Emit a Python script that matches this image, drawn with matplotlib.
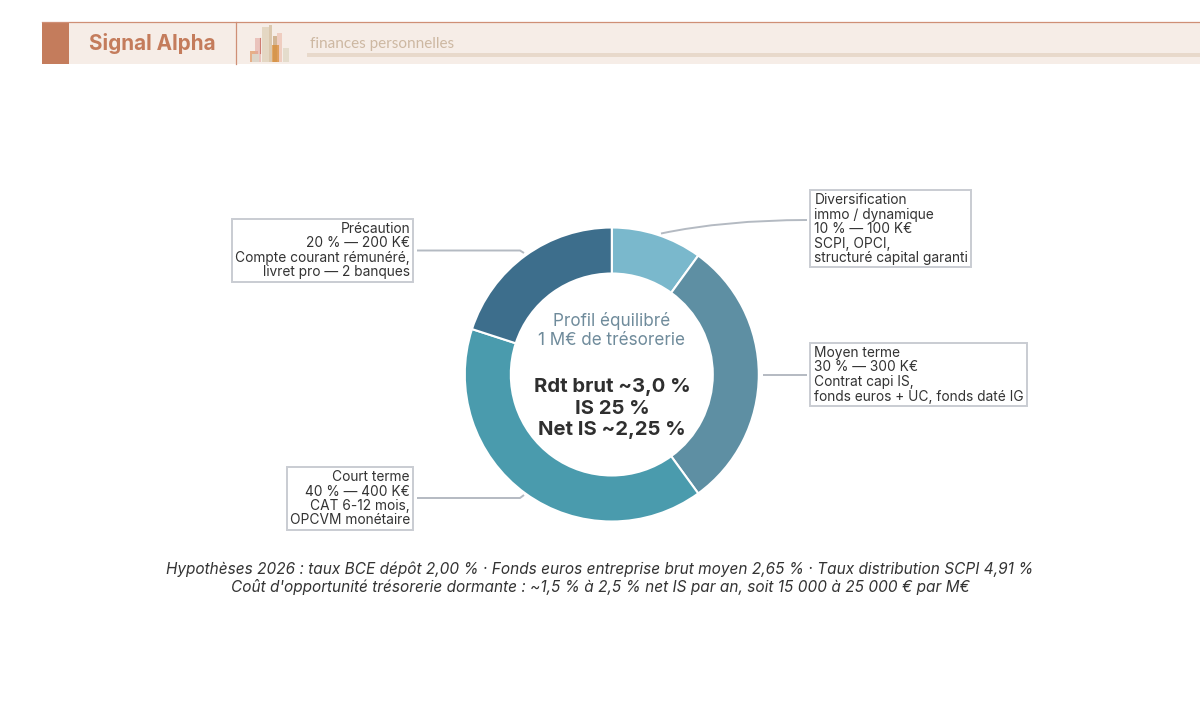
import matplotlib
matplotlib.use("Agg")
import matplotlib.pyplot as plt
from matplotlib.patches import Rectangle, PathPatch
from matplotlib.path import Path

W, H = 1200, 721
categories = ["Diversification", "Moyen terme", "Court terme", "Précaution"]
shares = [10, 30, 40, 20]
colors = ["#7AB8CC", "#5E8FA3", "#4A9BAD", "#3D6E8C"]

label_div = ["Diversification", "immo / dynamique", "10 % — 100 K€", "SCPI, OPCI,", "structuré capital garanti"]
label_moy = ["Moyen terme", "30 % — 300 K€", "Contrat capi IS,", "fonds euros + UC, fonds daté IG"]
label_crt = ["Court terme", "40 % — 400 K€", "CAT 6-12 mois,", "OPCVM monétaire"]
label_pre = ["Précaution", "20 % — 200 K€", "Compte courant rémunéré,", "livret pro — 2 banques"]
center_top = ["Profil équilibré", "1 M€ de trésorerie"]
center_main = ["Rdt brut ~3,0 %", "IS 25 %", "Net IS ~2,25 %"]
footnote = ["Hypothèses 2026 : taux BCE dépôt 2,00 % · Fonds euros entreprise brut moyen 2,65 % · Taux distribution SCPI 4,91 %",
            "Coût d'opportunité trésorerie dormante : ~1,5 % à 2,5 % net IS par an, soit 15 000 à 25 000 € par M€"]

plt.rcParams['font.family'] = ['Inter', 'DejaVu Sans']
fig = plt.figure(figsize=(W / 100, H / 100), dpi=100, facecolor="white")

# overlay in pixel coordinates
bg = fig.add_axes([0, 0, 1, 1])
bg.set_xlim(0, W); bg.set_ylim(H, 0); bg.axis("off")

# header
bg.add_patch(Rectangle((42, 22), 1158, 42.3, fc="#F6EDE7", ec="none"))
bg.plot([42, 1200], [21.7, 21.7], color="#CF8F76", lw=0.9)
bg.add_patch(Rectangle((42, 22), 27, 42.3, fc="#C47C5C", ec="none"))
bg.plot([236.3, 236.3], [22, 64.3], color="#CF8F76", lw=0.9)
bg.add_patch(Rectangle((307, 53), 893, 4, fc="#E8D9CB", ec="none"))
bg.text(89, 49.8, "Signal Alpha", family="Inter", weight="bold", fontsize=14.9, color="#C47C5C", va="baseline", ha="left")
bg.text(309.5, 48.3, "finances personnelles", family="Lato", fontsize=11, color="#CDB8A2", va="baseline", ha="left")
for x, y0, w, c, a in [(250, 51, 8, "#E2A070", .8), (255, 38, 6, "#E3A8A0", .6), (252, 54, 7, "#DDD8CC", .95),
                       (262, 27, 7, "#E3D5C0", .9), (269, 25, 3, "#D9C4A8", .9), (277, 33, 5, "#EDC0B0", .7),
                       (273, 36, 4, "#C9A880", .8), (272, 45, 7, "#D98A30", .7), (283, 48, 6, "#E3DCCB", .95)]:
    bg.add_patch(Rectangle((x, y0), w, 62 - y0, fc=c, alpha=a, ec="none"))
bg.plot([260, 260], [38, 53], color="#C86A60", lw=0.8, alpha=.8)

# donut
R, cx, cy = 147, 611.8, 374.5
ax = fig.add_axes([(cx - R) / W, 1 - (cy + R) / H, 2 * R / W, 2 * R / H])
ax.pie(shares, colors=colors, startangle=90, counterclock=False, radius=1,
       wedgeprops=dict(width=0.313, edgecolor="white", linewidth=1.5))
ax.set_xlim(-1, 1); ax.set_ylim(-1, 1); ax.set_aspect("equal"); ax.axis("off")
ax.patch.set_alpha(0)

# overlay above donut
ov = fig.add_axes([0, 0, 1, 1])
ov.set_xlim(0, W); ov.set_ylim(H, 0); ov.axis("off"); ov.patch.set_alpha(0)

for line, y in zip(center_top, [326, 345]):
    ov.text(612, y, line, fontsize=12.3, color="#6F8B9B", ha="center", va="baseline")
for line, y in zip(center_main, [392.5, 414, 435]):
    ov.text(612, y, line, fontsize=14.6, weight="bold", color="#2F2F2F", ha="center", va="baseline")
for line, y in zip(footnote, [574.3, 592]):
    ov.text(600, y, line, fontsize=11.08, style="italic", color="#333333", ha="center", va="baseline")

box_ec = "#C9CCD2"
line_c = "#B4BAC2"
FS = 9.9
def box(x0, y0, x1, y1):
    ov.add_patch(Rectangle((x0, y0), x1 - x0, y1 - y0, fc="white", ec=box_ec, lw=1.4))
def lines(x, ys, txt, ha):
    for t, y in zip(txt, ys):
        ov.text(x, y, t, fontsize=FS, color="#333333", ha=ha, va="baseline")

box(810, 190, 971, 267)
ov.text(815, 204, label_div[0], fontsize=FS, color="#333333", ha="left", va="baseline")
lines(814, [218.7, 233, 247.7, 262.3], label_div[1:], "left")
box(810, 343, 1027, 406)
lines(814, [357, 371.3, 386, 400.7], label_moy, "left")
box(232, 219, 413, 282)
lines(410, [233.3, 247.3, 262, 276], label_pre, "right")
box(287, 467, 413, 530)
lines(410, [481, 495.7, 510, 524.3], label_crt, "right")

def conn(verts, codes):
    ov.add_patch(PathPatch(Path(verts, codes), fc="none", ec=line_c, lw=1.4))
conn([(661, 233.5), (725, 220), (807, 220)], [Path.MOVETO, Path.CURVE3, Path.CURVE3])
conn([(763, 374.5), (807, 374.5)], [Path.MOVETO, Path.LINETO])
conn([(417, 250.5), (520, 250.5), (524, 253)], [Path.MOVETO, Path.LINETO, Path.LINETO])
conn([(417, 498), (520, 498), (524, 495)], [Path.MOVETO, Path.LINETO, Path.LINETO])

fig.savefig("out.png", dpi=100)
